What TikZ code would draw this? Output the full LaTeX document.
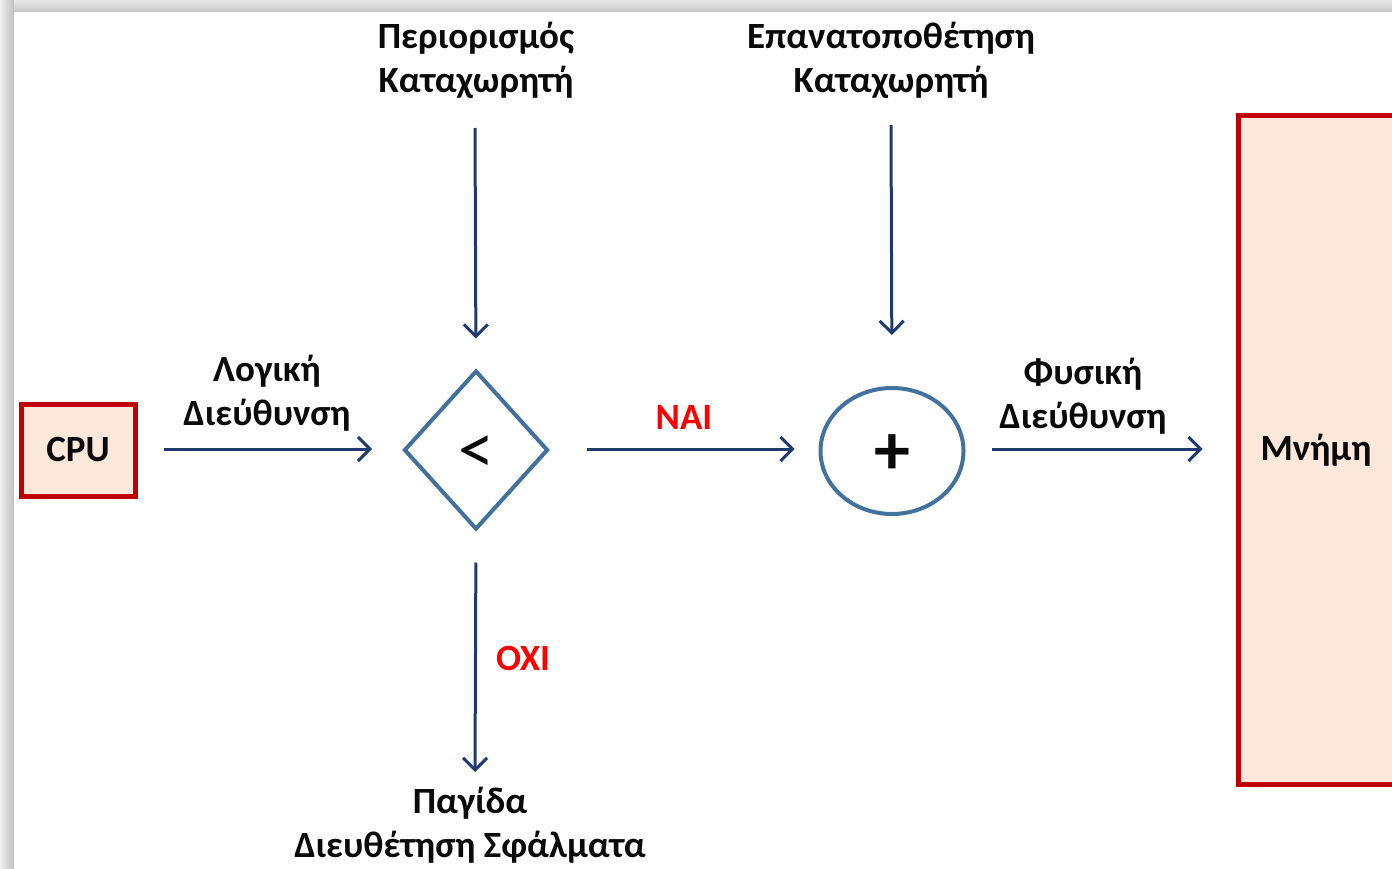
\documentclass[tikz,border=0pt]{standalone}
\usepackage{fontspec}
\setmainfont{Carlito}
\usetikzlibrary{arrows.meta,shapes.geometric}
\definecolor{navy}{HTML}{1F3A70}
\definecolor{shapeblue}{HTML}{41719C}
\definecolor{boxred}{HTML}{C00000}
\definecolor{boxfill}{HTML}{FCE8DA}
\definecolor{labred}{HTML}{FF0000}
\definecolor{txt}{HTML}{0A0A0A}
\tikzset{
  lbl/.style={font=\bfseries\fontsize{37}{44}\selectfont, text=txt, align=center, inner sep=0pt},
  redlbl/.style={font=\bfseries\fontsize{37}{44}\selectfont, text=labred, inner sep=0pt},
  arr/.style={draw=navy, line width=3pt, -{Straight Barb[length=12pt,width=24pt,line width=3pt]}},
  redbox/.style={draw=boxred, line width=5pt, fill=boxfill, inner sep=0pt},
  opbig/.style={font=\fontsize{72}{72}\selectfont, text=txt},
}
\begin{document}
\begin{tikzpicture}[x=1pt,y=-1pt]
\useasboundingbox (0,0) rectangle (1392,869);
\clip (0,0) rectangle (1392,869);
% frame shadow
\shade[left color=gray!12, right color=gray!50] (0,0) rectangle (14,869);
\shade[top color=gray!18, bottom color=gray!45] (14,0) rectangle (1392,12);
% nodes
\node[redbox, minimum width=114pt, minimum height=92pt, lbl] (cpu) at (78,450) {CPU};
\node[draw=shapeblue, line width=4pt, diamond, aspect=0.91, minimum width=144pt, minimum height=159pt, inner sep=0pt] (dia) at (476,450) {};
\node[opbig] at ([yshift=-5pt]dia.center) {<};
\node[draw=shapeblue, line width=4pt, ellipse, minimum width=143pt, minimum height=126pt, inner sep=0pt] (add) at (892,451) {};
\node[opbig, font=\bfseries\fontsize{72}{72}\selectfont] at ([yshift=-4pt]add.center) {+};
\node[redbox, minimum width=160pt, minimum height=668pt] (mem) at (1318,450) {};
\node[lbl] at (1316,450) {Μνήμη};
% labels
\node[lbl] (lim) at (476,60) {Περιορισμός\\Καταχωρητή};
\node[lbl] (rel) at (891,60) {Επανατοποθέτηση\\Καταχωρητή};
\node[lbl] (log) at (267,393) {Λογική\\Διεύθυνση};
\node[lbl] (phy) at (1083,396) {Φυσική\\Διεύθυνση};
\node[lbl] (trap) at (470,825) {Παγίδα\\Διευθέτηση Σφάλματα};
\node[redlbl] (yes) at (684,418) {NAI};
\node[redlbl] (no) at (523,658) {OXI};
% coordinates
\coordinate (limtop) at (475,128);
\coordinate (reltop) at (891,125);
\coordinate (trapend) at (475,772);
% connectors
\draw[arr, shorten <=26pt, shorten >=30pt] (cpu.east |- 0,449) -- (dia.west |- 0,449);
\draw[arr, shorten <=37pt, shorten >=24pt] (dia.east |- 0,449) -- (add.west |- 0,449);
\draw[arr, shorten <=26pt, shorten >=33pt] (add.east |- 0,449) -- (mem.west |- 0,449);
\draw[arr, shorten >=30pt] (limtop) -- (dia.north);
\draw[arr, shorten >=51pt] (reltop) -- (add.north);
\draw[arr, shorten <=31pt] (dia.south) -- (trapend);
\end{tikzpicture}
\end{document}
